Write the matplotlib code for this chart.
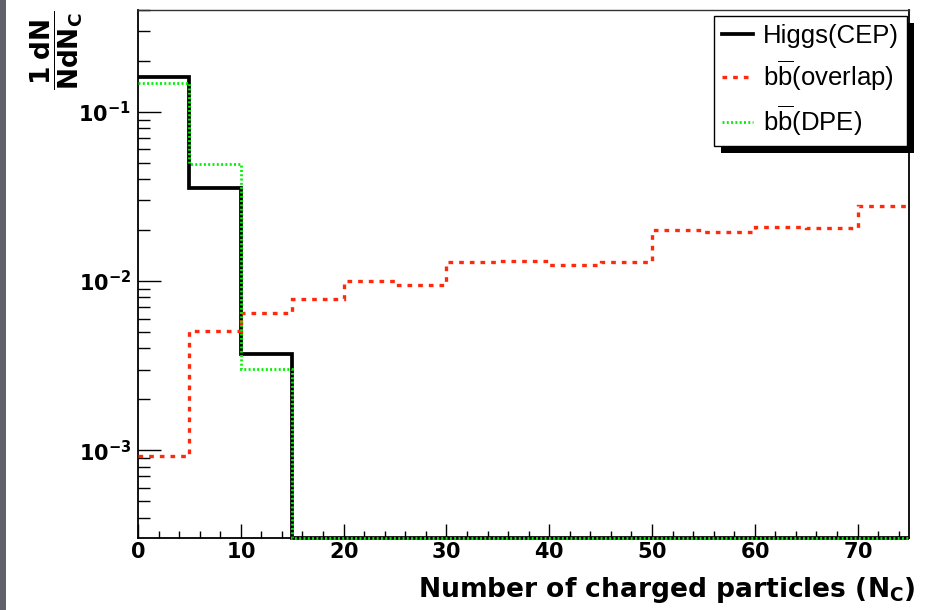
import numpy as np
import matplotlib
matplotlib.use("Agg")
import matplotlib.pyplot as plt
from matplotlib.patches import Rectangle
from matplotlib.ticker import LogLocator, MultipleLocator, NullFormatter, FuncFormatter, FixedLocator

plt.rcParams["font.family"] = ["Liberation Sans", "DejaVu Sans"]
plt.rcParams["mathtext.fontset"] = "custom"
plt.rcParams["mathtext.rm"] = "Liberation Sans"
plt.rcParams["mathtext.sf"] = "Liberation Sans"
plt.rcParams["mathtext.it"] = "Liberation Sans:italic"
plt.rcParams["mathtext.bf"] = "DejaVu Sans:bold"

# Charged-multiplicity histograms, 5-unit bins from 0 to 75
bin_edges = np.arange(0, 80, 5)
higgs_cep = [0.161, 0.0357, 0.00372, 0, 0, 0, 0, 0, 0, 0, 0, 0, 0, 0, 0]
bb_overlap = [0.00092, 0.00506, 0.00644, 0.0078, 0.0100, 0.00952, 0.0129,
              0.0132, 0.01245, 0.0130, 0.0200, 0.0194, 0.0208, 0.0205, 0.0279]
bb_dpe = [0.148, 0.0492, 0.00301, 0, 0, 0, 0, 0, 0, 0, 0, 0, 0, 0, 0]

series_labels = ["Higgs(CEP)", r"b$\overline{\mathrm{b}}$(overlap)", r"b$\overline{\mathrm{b}}$(DPE)"]
x_tick_values = [0, 10, 20, 30, 40, 50, 60, 70]
y_tick_values = [1e-3, 1e-2, 1e-1]

y_min, y_max = 3.03e-4, 0.40
x_min, x_max = 0, 75

W, H = 931, 610
fig = plt.figure(figsize=(W / 100, H / 100), dpi=100)
ax = fig.add_axes([138 / W, 1 - 538 / H, (909 - 138) / W, (538 - 10) / H])

# grey strip on the left edge of the page
fig.patches.append(Rectangle((0, 0), 6 / W, 1, transform=fig.transFigure,
                             facecolor="#5e6169", edgecolor="none", zorder=0))


def floor_empty(vals):
    v = np.asarray(vals, dtype=float)
    return np.where(v > 0, v, y_min)


ax.stairs(floor_empty(higgs_cep), bin_edges, baseline=None, color="black",
          lw=2.7, label=series_labels[0], clip_on=False, zorder=3)
ax.stairs(floor_empty(bb_overlap), bin_edges, baseline=None, color="#ff2a0d",
          lw=2.4, linestyle=(0, (1.4, 1.8)), label=series_labels[1],
          clip_on=False, zorder=4)
ax.stairs(floor_empty(bb_dpe), bin_edges, baseline=None, color="#00f000",
          lw=2.0, linestyle=(0, (0.7, 0.85)), label=series_labels[2],
          clip_on=False, zorder=5)

ax.set_yscale("log")
ax.set_xlim(x_min, x_max)
ax.set_ylim(y_min, y_max)

ax.xaxis.set_major_locator(FixedLocator(x_tick_values))
ax.xaxis.set_minor_locator(MultipleLocator(2))
ax.xaxis.set_major_formatter(FuncFormatter(lambda v, p: r"$\mathbf{%d}$" % int(round(v))))

ax.yaxis.set_major_locator(FixedLocator(y_tick_values))
ax.yaxis.set_minor_locator(LogLocator(base=10, subs=np.arange(2, 10)))
ax.yaxis.set_major_formatter(FuncFormatter(
    lambda v, p: r"$\mathbf{10^{%d}}$" % int(round(np.log10(v)))))
ax.yaxis.set_minor_formatter(NullFormatter())

ax.tick_params(axis="x", which="major", direction="in", length=10, width=1.0,
               pad=3, top=False, labelsize=15)
ax.tick_params(axis="x", which="minor", direction="in", length=5, width=1.0, top=False)
ax.tick_params(axis="y", which="major", direction="in", length=16.5, width=1.0,
               pad=5, right=False, labelsize=15)
ax.tick_params(axis="y", which="minor", direction="in", length=8.6, width=1.0, right=False)

for side in ["left", "bottom", "right"]:
    ax.spines[side].set_linewidth(1.3)
    ax.spines[side].set_color("black")
ax.spines["top"].set_linewidth(1.0)
ax.spines["top"].set_color("#333333")

# axis titles
fig.text(916 / W, 1 - 597 / H, r"Number of charged particles ($\mathbf{N_{C}}$)",
         ha="right", va="baseline", fontsize=19.1, fontweight="bold",
         family="DejaVu Sans")
fig.text(57 / W, 1 - 10 / H,
         r"$\dfrac{\mathbf{1\ dN}}{\mathbf{NdN_{C}}}$",
         rotation=90, ha="center", va="top", fontsize=19)

leg = ax.legend(loc="upper right", bbox_to_anchor=(907 / W, 1 - 16 / H),
                bbox_transform=fig.transFigure, borderaxespad=0,
                fontsize=18.5, frameon=True, fancybox=False, shadow=False,
                handlelength=1.2, handletextpad=0.4, borderpad=0.3,
                labelspacing=0.42)
leg.get_frame().set_edgecolor("black")
leg.get_frame().set_linewidth(1.0)
leg.get_frame().set_alpha(1)
leg.set_zorder(10)

# solid black drop shadow behind the legend box
fig.canvas.draw()
bb = leg.get_window_extent()
inv = fig.transFigure.inverted()
(x0, y0), (x1, y1) = inv.transform([(bb.x0 + 7, bb.y0 - 7.5), (bb.x1 + 7, bb.y1 - 7.5)])
shadow = Rectangle((x0, y0), x1 - x0, y1 - y0, transform=fig.transFigure,
                   facecolor="black", edgecolor="none", zorder=9.9, clip_on=False)
ax.add_artist(shadow)

fig.savefig("out.png", dpi=100)
